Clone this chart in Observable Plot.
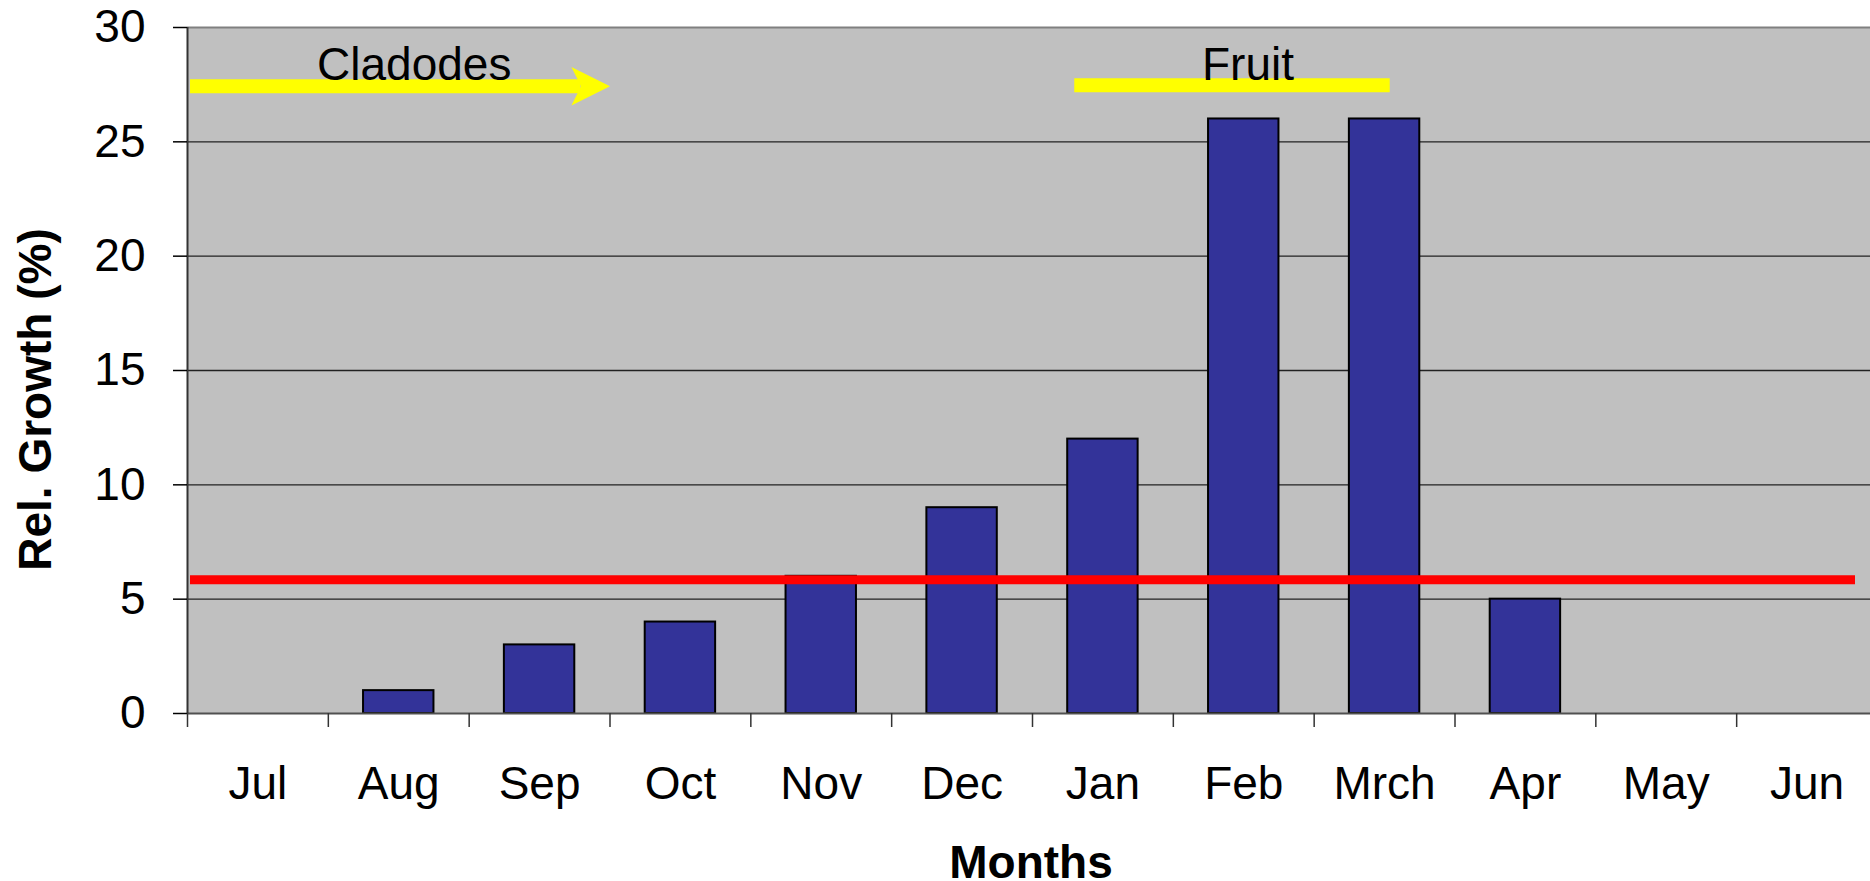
<!DOCTYPE html>
<html>
<head>
<meta charset="utf-8">
<script src="https://cdn.jsdelivr.net/npm/d3@7"></script>
<script src="https://cdn.jsdelivr.net/npm/@observablehq/plot@0.6"></script>
<style>
  html, body { margin: 0; padding: 0; background: white; }
  #chart { width: 1870px; height: 881px; overflow: hidden; }
</style>
</head>
<body>
<div id="chart"></div>
<script>
// ---- Data ----
const months = ["Jul", "Aug", "Sep", "Oct", "Nov", "Dec", "Jan", "Feb", "Mrch", "Apr", "May", "Jun"];
const growth = [0, 1, 3, 4, 6, 9, 12, 26, 26, 5, 0, 0];
const yTicks = [0, 5, 10, 15, 20, 25, 30];
const threshold = 5.85;
const xTitle = "Months";
const yTitle = "Rel. Growth (%)";
// annotation extents in month-index units (0 = start of Jul) and y values
const annoLabels = ["Cladodes", "Fruit"];
const annoStart = [0, 6.3];
const annoEnd = [3, 8.54];
const annoLevel = [27.43, 27.47];
const annoLabelAt = [1.61, 7.53];
const annoLabelLevel = [27.72, 27.72];
const annoArrow = [true, false];

// ---- Tables built from the arrays ----
const bars = months.map((m, i) => ({month: m, i, value: growth[i]})).filter(d => d.value > 0);
const annos = annoLabels.map((label, k) => ({
  label, start: annoStart[k], end: annoEnd[k], level: annoLevel[k],
  labelAt: annoLabelAt[k], labelLevel: annoLabelLevel[k], arrow: annoArrow[k]
}));
const boundaries = d3.range(0, months.length + 1);
const centers = months.map((m, i) => i + 0.5);

// filled "stealth" arrowhead, origin at the tip, pointing right
const arrowHead = {
  draw(context, size) {
    const r = Math.sqrt(size / Math.PI);
    context.moveTo(0, 0);
    context.lineTo(-2 * r, -r);
    context.lineTo(-1.5 * r, 0);
    context.lineTo(-2 * r, r);
    context.closePath();
  }
};

const yellow = "#ffff00";

const chart = Plot.plot({
  width: 1870,
  height: 881,
  marginLeft: 187,
  marginRight: 0,
  marginTop: 27,
  marginBottom: 168,
  style: {
    fontFamily: "'Liberation Sans', Arial, sans-serif",
    fontSize: "46px",
    background: "white",
    color: "black"
  },
  x: {type: "linear", domain: [0, months.length], range: [187, 1877], label: null},
  y: {domain: [0, 30], label: null},
  marks: [
    Plot.frame({fill: "#c0c0c0", stroke: null}),
    // gridlines
    Plot.ruleY(yTicks.filter(d => d > 0 && d < 30), {stroke: "#222", strokeWidth: 1.4}),
    // plot area top border
    Plot.ruleY([30], {stroke: "#808080", strokeWidth: 2}),
    // bars
    Plot.rectY(bars, {
      x1: d => d.i + 0.25, x2: d => d.i + 0.75, y1: 0, y2: "value",
      fill: "#333399", stroke: "black", strokeWidth: 2
    }),
    // threshold line
    Plot.ruleY([threshold], {stroke: "#ff0000", strokeWidth: 9, insetLeft: 3, insetRight: 15}),
    // axis lines
    Plot.ruleY([0], {stroke: "#505050", strokeWidth: 2}),
    Plot.ruleX([0], {stroke: "#333", strokeWidth: 2}),
    // annotations
    Plot.ruleY(annos.filter(d => !d.arrow), {
      y: "level", x1: "start", x2: "end", stroke: yellow, strokeWidth: 14
    }),
    Plot.ruleY(annos.filter(d => d.arrow), {
      y: "level", x1: "start", x2: "end", insetLeft: 3, insetRight: 29,
      stroke: yellow, strokeWidth: 14
    }),
    Plot.dot(annos.filter(d => d.arrow), {
      x: "end", y: "level", r: 19.3, symbol: arrowHead, fill: yellow, stroke: null
    }),
    Plot.text(annos, {
      x: "labelAt", y: "labelLevel", text: "label",
      lineAnchor: "bottom", fontSize: 46, fill: "black"
    }),
    // y axis
    Plot.axisY({
      ticks: yTicks, tickSize: 14, tickPadding: 28, fontSize: 46,
      stroke: "black", strokeWidth: 1.5, label: null
    }),
    // x axis: ticks at category boundaries, labels at centers
    Plot.axisX({
      ticks: boundaries, tickSize: 14, tickFormat: () => "",
      stroke: "#333", strokeWidth: 1.5, label: null
    }),
    Plot.axisX({
      ticks: centers, tickSize: 0, tickPadding: 53, fontSize: 46,
      tickFormat: d => months[Math.floor(d)], label: null
    }),
    // axis titles
    Plot.text([xTitle], {
      frameAnchor: "bottom", dx: 2, dy: 164, lineAnchor: "bottom", textAnchor: "middle",
      fontSize: 46, fontWeight: "bold", fill: "black"
    }),
    Plot.text([yTitle], {
      frameAnchor: "left", rotate: -90, dx: -168.7, dy: 29, lineAnchor: "top", textAnchor: "middle",
      fontSize: 46, fontWeight: "bold", fill: "black"
    })
  ]
});

document.getElementById("chart").appendChild(chart);
</script>
</body>
</html>
